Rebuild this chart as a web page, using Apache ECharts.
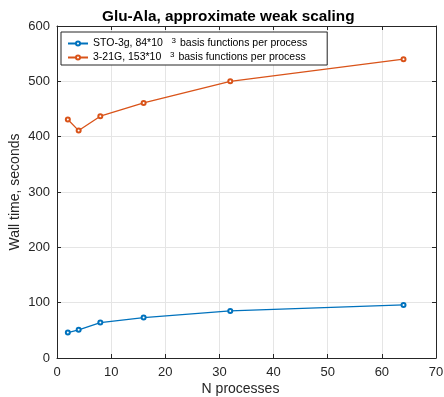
<!DOCTYPE html>
<html>
<head>
<meta charset="utf-8">
<script src="https://cdn.jsdelivr.net/npm/echarts@6/dist/echarts.min.js"></script>
<style>
  html, body { margin: 0; padding: 0; background: #fff; }
  #chart { width: 444px; height: 397px; }
</style>
</head>
<body>
<div id="chart"></div>
<script>
// Process counts on the x axis
const processes = [2, 4, 8, 16, 32, 64];
// Wall time (seconds) per basis set
const sto3g = [46, 51, 64, 73, 85, 96];
const g321 = [431, 411, 437, 461, 500, 540];
const seriesNames = ['STO-3g', '3-21G'];
const basisSizes = ['84', '153'];

const FONT = 'Liberation Sans, Arial, Helvetica, sans-serif';
const AXIS = '#262626';
const GRID = '#e5e5e5';

const chart = echarts.init(document.getElementById('chart'), null, { renderer: 'canvas' });

function pairs(ys) { return processes.map((x, i) => [x, ys[i]]); }

function lineSeries(name, ys, color) {
  return {
    name: name,
    type: 'line',
    data: pairs(ys),
    symbol: 'emptyCircle',
    symbolSize: 4,
    showAllSymbol: true,
    lineStyle: { color: color, width: 1.3 },
    itemStyle: { color: color, borderColor: color, borderWidth: 1.2 },
    emphasis: { disabled: true },
    z: 5
  };
}

// Unlabelled axes that close the box on the top and right
const frameAxis = {
  axisLine: { show: true, onZero: false, lineStyle: { color: AXIS, width: 1 } },
  axisTick: { show: true, inside: true, length: 4, lineStyle: { color: AXIS } },
  axisLabel: { show: false },
  splitLine: { show: false }
};

chart.setOption({
  animation: false,
  title: {
    text: 'Glu-Ala, approximate weak scaling',
    left: 97, top: 4,
    textStyle: { fontFamily: FONT, fontSize: 15.3, fontWeight: 'bold', color: '#000' }
  },
  grid: { left: 57, right: 8, top: 26, bottom: 39, containLabel: false, outerBoundsMode: 'none' },
  legend: {
    orient: 'vertical',
    left: 61, top: 32,
    itemWidth: 20, itemHeight: 5, itemGap: 2,
    padding: [5, 20, 2, 6],
    borderColor: AXIS, borderWidth: 1,
    backgroundColor: '#fff',
    data: seriesNames,
    formatter: function (name) {
      const i = seriesNames.indexOf(name);
      return '{t|' + name + ', ' + basisSizes[i] + '*10   }{s|3}{t| basis functions per process}';
    },
    textStyle: {
      fontFamily: FONT, fontSize: 10.5, color: '#000',
      rich: {
        t: { fontFamily: FONT, fontSize: 10.5, color: '#000', lineHeight: 13 },
        s: { fontFamily: FONT, fontSize: 8, color: '#000', verticalAlign: 'top', padding: [0, 1, 4, 0], lineHeight: 13 }
      }
    }
  },
  xAxis: [{
    type: 'value', min: 0, max: 70, interval: 10,
    name: 'N processes', nameLocation: 'middle', nameGap: 24, nameMoveOverlap: false,
    nameTextStyle: { fontFamily: FONT, fontSize: 14, color: '#262626', padding: [0, 12, 0, 0] },
    axisLine: { show: true, onZero: false, lineStyle: { color: AXIS } },
    axisTick: { show: true, inside: true, length: 4, lineStyle: { color: AXIS } },
    axisLabel: { fontFamily: FONT, fontSize: 13, color: '#262626', margin: 8 },
    splitLine: { show: true, lineStyle: { color: GRID, width: 1 } }
  }, Object.assign({ type: 'value', position: 'top', min: 0, max: 70, interval: 10 }, frameAxis)],
  yAxis: [{
    type: 'value', min: 0, max: 600, interval: 100,
    name: 'Wall time, seconds', nameLocation: 'middle', nameGap: 35, nameMoveOverlap: false,
    nameTextStyle: { fontFamily: FONT, fontSize: 14, color: '#262626' },
    axisLine: { show: true, onZero: false, lineStyle: { color: AXIS } },
    axisTick: { show: true, inside: true, length: 4, lineStyle: { color: AXIS } },
    axisLabel: { fontFamily: FONT, fontSize: 13, color: '#262626', margin: 7 },
    splitLine: { show: true, lineStyle: { color: GRID, width: 1 } }
  }, Object.assign({ type: 'value', position: 'right', min: 0, max: 600, interval: 100 }, frameAxis)],
  series: [
    lineSeries(seriesNames[0], sto3g, '#0072BD'),
    lineSeries(seriesNames[1], g321, '#D95319')
  ]
});
</script>
</body>
</html>
